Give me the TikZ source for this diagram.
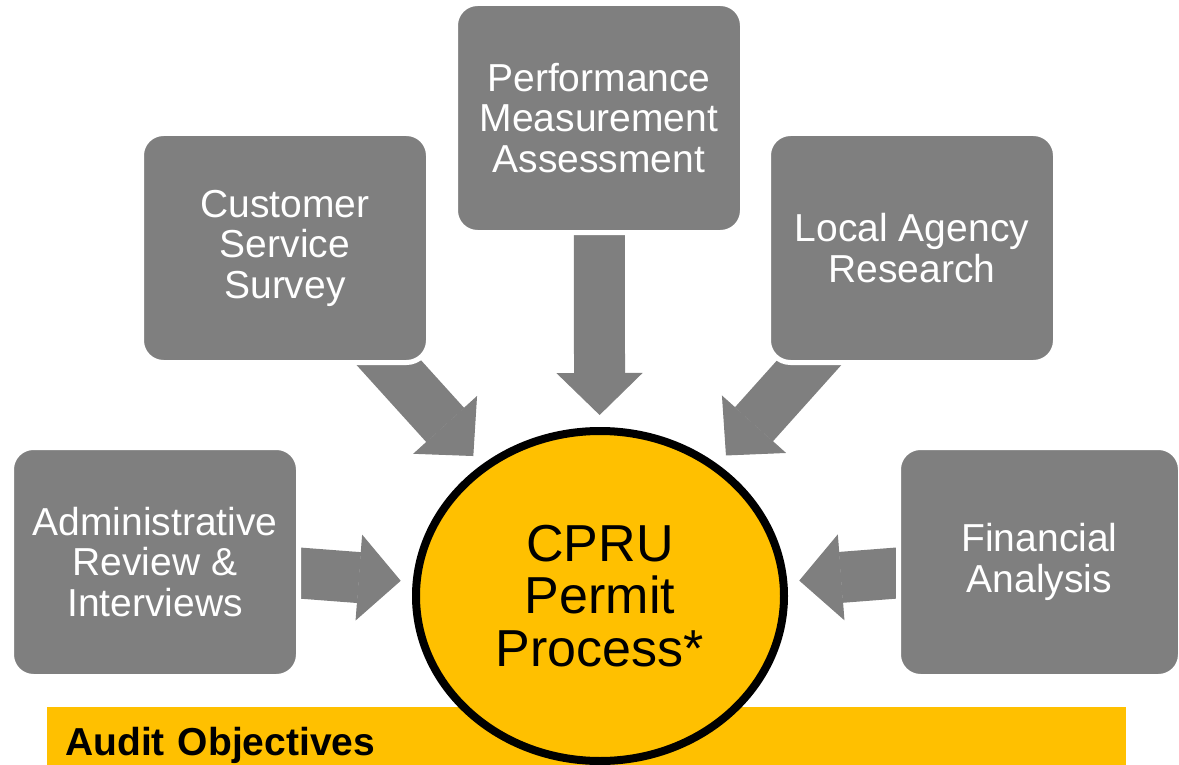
\documentclass[tikz,border=0pt]{standalone}
\usepackage{fontspec}
\setmainfont{Liberation Sans}
\usetikzlibrary{arrows.meta,shapes.geometric,backgrounds}
\definecolor{boxgray}{HTML}{7F7F7F}
\definecolor{audityellow}{HTML}{FFC000}

\begin{document}
\begin{tikzpicture}[x=1pt, y=-1pt,
    task/.style={rectangle, rounded corners=22pt, draw=white, line width=5pt, fill=boxgray,
      text=white, minimum width=287pt, minimum height=229pt, align=center,
      font=\fontsize{39}{40.5}\selectfont},
    feed/.style={draw=boxgray, line width=51pt,
      -{Triangle[length=42pt,width=86pt,line width=1pt]}, shorten >=12pt}]
  \useasboundingbox (0,0) rectangle (1179,765);

  % Objectives bar
  \node[fill=audityellow, anchor=north west, minimum width=1079pt, inner ysep=0pt,
    text height=48pt, text depth=10pt, text width=1043pt, inner xsep=18pt,
    font=\bfseries\fontsize{39}{40}\selectfont]
    (obj) at (47,707) {Audit Objectives};

  % Audit steps
  \node[task] (css) at (285,248) {Customer\\Service\\Survey};
  \node[task] (pma) at (599,118) {Performance\\Measurement\\Assessment};
  \node[task] (lar) at (912,248) {Local Agency\\Research};
  \node[task] (adm) at (155,562) {Administrative\\Review \&\\Interviews};
  \node[task, minimum width=282pt] (fin) at (1039.5,562) {Financial\\Analysis};

  % Process in the middle
  \node[ellipse, draw=black, line width=8pt, fill=audityellow, minimum width=368pt,
    minimum height=330pt, align=center, font=\fontsize{52}{52.5}\selectfont]
    (cpru) at (600,596) {CPRU\\Permit\\Process*};

  % Arrows
  \begin{scope}[on background layer]
    \draw[feed] (css.center) -- (cpru);
    \draw[feed] (pma.center) -- (cpru);
    \draw[feed] (lar.center) -- (cpru);
    \draw[feed] (adm.center) -- (cpru);
    \draw[feed] (fin.center) -- (cpru);
  \end{scope}
\end{tikzpicture}
\end{document}
